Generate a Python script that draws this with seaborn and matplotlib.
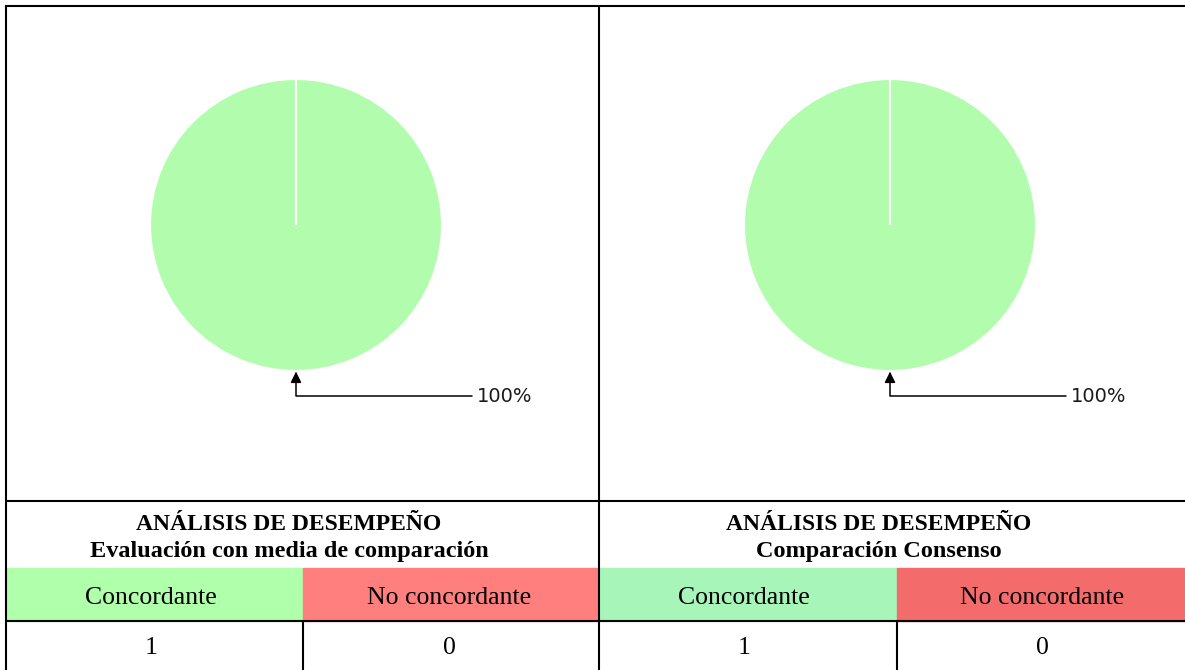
import matplotlib
matplotlib.use("Agg")
import matplotlib.pyplot as plt
from matplotlib.patches import Rectangle
import seaborn as sns

# ---- data ----
panel_titles = ["ANÁLISIS DE DESEMPEÑO\nEvaluación con media de comparación",
                "ANÁLISIS DE DESEMPEÑO\nComparación Consenso"]
categories = ["Concordante", "No concordante"]
counts_media = [1, 0]
counts_consenso = [1, 0]
pct_labels = ["100%", "100%"]

sns.set_theme(style="white")
plt.rcParams["font.family"] = ["Liberation Serif", "DejaVu Serif"]
plt.rcParams["text.color"] = "black"

W, H = 1185, 670
fig = plt.figure(figsize=(W / 100, H / 100), dpi=100)
fig.patch.set_facecolor("white")

# background axes in pixel coordinates for the frame / table
bg = fig.add_axes([0, 0, 1, 1])
bg.set_xlim(0, W)
bg.set_ylim(H, 0)
bg.axis("off")

pie_color = "#B2FDAD"
cell_colors = [["#B0FFAA", "#FF7E7E"], ["#A7F5B8", "#F46B6B"]]

panels = [(6, 599), (599, 1185)]
col_split = [303, 897]
head_cx = [289, 879]
cat_cx = [[151, 449], [744, 1042]]
datasets = [counts_media, counts_consenso]

for i, ((x0, x1), counts) in enumerate(zip(panels, datasets)):
    # colored category cells
    bg.add_patch(Rectangle((x0, 568), col_split[i] - x0, 53, color=cell_colors[i][0], zorder=1))
    bg.add_patch(Rectangle((col_split[i], 568), x1 - col_split[i], 53, color=cell_colors[i][1], zorder=1))
    # headers
    l1, l2 = panel_titles[i].split("\n")
    bg.text(head_cx[i], 525, l1, ha="center", va="center",
            fontsize=17, fontweight="bold", color="black", zorder=3)
    bg.text(head_cx[i], 551, l2, ha="center", va="center",
            fontsize=17.5, fontweight="bold", color="black", zorder=3)
    for j, cat in enumerate(categories):
        bg.text(cat_cx[i][j], 598, cat, ha="center", va="center", fontsize=18.5,
                color="black", zorder=3)
        bg.text(cat_cx[i][j], 648, str(counts[j]), ha="center", va="center", fontsize=18.5,
                color="black", zorder=3)
    # column divider in number row
    bg.plot([col_split[i], col_split[i]], [621, H], color="black", lw=1.5, zorder=4)

lw = 1.5
bg.plot([6, W], [6, 6], color="black", lw=lw, zorder=4)
bg.plot([6, 6], [6, H], color="black", lw=lw, zorder=4)
bg.plot([599, 599], [6, H], color="black", lw=lw, zorder=4)
bg.plot([6, W], [501, 501], color="black", lw=lw, zorder=4)
bg.plot([6, W], [621, 621], color="black", lw=lw, zorder=4)

# pies
R = 146.0
centers = [(296, 225), (890, 225)]
for i, ((x0, x1), counts) in enumerate(zip(panels, datasets)):
    cx, cy = centers[i]
    ax = fig.add_axes([x0 / W, (H - 501) / H, (x1 - x0) / W, (501 - 6) / H])
    ax.pie(counts, colors=[pie_color, cell_colors[i][1]], startangle=90, counterclock=False,
           radius=1.0, wedgeprops=dict(edgecolor="white", linewidth=1.5), frame=True)
    ax.set_aspect("auto")
    ax.set_xlim((x0 - cx) / R, (x1 - cx) / R)
    ax.set_ylim(-(501 - cy) / R, (cy - 6) / R)
    ax.axis("off")
    ax.annotate(pct_labels[i], xy=(0, -1.005), xytext=((477 - 296) / R, -(396 - 225) / R),
                ha="left", va="center", fontsize=14, family="DejaVu Sans", color="#1a1a1a",
                arrowprops=dict(arrowstyle="-|>", color="black", lw=1.1, mutation_scale=16,
                                connectionstyle="angle,angleA=0,angleB=90,rad=0",
                                shrinkA=1, shrinkB=0))

fig.savefig("out.png", dpi=100, facecolor="white")
